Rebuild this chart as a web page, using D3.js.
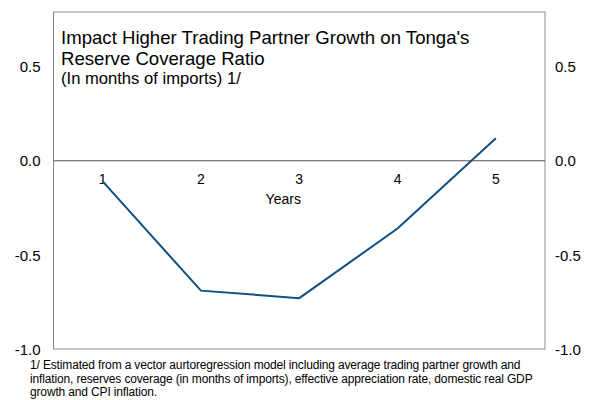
<!DOCTYPE html>
<html>
<head>
<meta charset="utf-8">
<script src="https://cdn.jsdelivr.net/npm/d3@7"></script>
<style>
  body { margin: 0; background: #fff; }
  svg text { font-family: "Liberation Sans", Arial, sans-serif; fill: #000; }
</style>
</head>
<body>
<svg id="chart" width="590" height="400"></svg>
<script>
// chart data
const years = ['1', '2', '3', '4', '5'];
const impact = [-0.11, -0.69, -0.73, -0.36, 0.12];
const yTicks = [-1.0, -0.5, 0.0, 0.5];
const titleLines = ["Impact Higher Trading Partner Growth on Tonga's", "Reserve Coverage Ratio"];
const subtitle = "(In months of imports) 1/";
const footnote = [
  "1/ Estimated from a vector aurtoregression model including average trading partner growth and",
  "inflation, reserves coverage (in months of imports), effective appreciation rate, domestic real GDP",
  "growth and CPI inflation."
];

const margin = {top: 12, right: 45, bottom: 51, left: 53.5},
  width = 590 - margin.left - margin.right,
  height = 400 - margin.top - margin.bottom;

const svg = d3.select('#chart');
const g = svg.append('g').attr('transform', `translate(${margin.left},${margin.top})`);

const x = d3.scaleBand().domain(years).range([0, width]);
const y = d3.scaleLinear().domain([-1.0, 0.79]).range([height, 0]);

// frame
g.append('rect')
  .attr('x', 0).attr('y', 0)
  .attr('width', width).attr('height', height)
  .attr('fill', 'none').attr('stroke', '#8a8a8a').attr('stroke-width', 1);

// left / right value axes (plain hyphen for negatives, like the original)
const fmt = d => d3.format('.1f')(d).replace('\u2212', '-');
const yLeft = g.append('g').call(d3.axisLeft(y).tickValues(yTicks).tickFormat(fmt).tickSize(0).tickPadding(13));
const yRight = g.append('g').attr('transform', `translate(${width},0)`)
  .call(d3.axisRight(y).tickValues(yTicks).tickFormat(fmt).tickSize(0).tickPadding(10));
[yLeft, yRight].forEach(a => {
  a.select('.domain').remove();
  a.selectAll('text').style('font-size', '15px').attr('dy', '0.35em');
});

// zero line with category labels below
g.append('line')
  .attr('x1', 0).attr('x2', width)
  .attr('y1', y(0)).attr('y2', y(0))
  .attr('stroke', '#555').attr('stroke-width', 1.2);

const xAxis = g.append('g').attr('transform', `translate(0,${y(0)})`)
  .call(d3.axisBottom(x).tickSize(0).tickPadding(13));
xAxis.select('.domain').remove();
xAxis.selectAll('text').style('font-size', '14px');

g.append('text')
  .attr('x', x('3') + x.bandwidth() / 2 - 16)
  .attr('y', y(0) + 43)
  .attr('text-anchor', 'middle')
  .style('font-size', '14px')
  .text('Years');

// line
g.append('path')
  .datum(impact)
  .attr('fill', 'none')
  .attr('stroke', '#0f4f86')
  .attr('stroke-width', 2)
  .attr('d', d3.line()
    .x((d, i) => x(years[i]) + x.bandwidth() / 2)
    .y(d => y(d)));

// title
const title = svg.append('text').attr('x', 61).attr('y', 44).style('font-size', '18.6px');
titleLines.forEach((t, i) => {
  title.append('tspan').attr('x', 61).attr('dy', i === 0 ? 0 : 20.5).text(t);
});
svg.append('text').attr('x', 61).attr('y', 84).style('font-size', '16.6px').text(subtitle);

// footnote
svg.append('g').selectAll('text')
  .data(footnote)
  .enter()
  .append('text')
  .attr('x', 30)
  .attr('y', (d, i) => 369 + i * 13.5)
  .style('font-size', '12px')
  .style('letter-spacing', '-0.15px')
  .text(d => d);
</script>
</body>
</html>
